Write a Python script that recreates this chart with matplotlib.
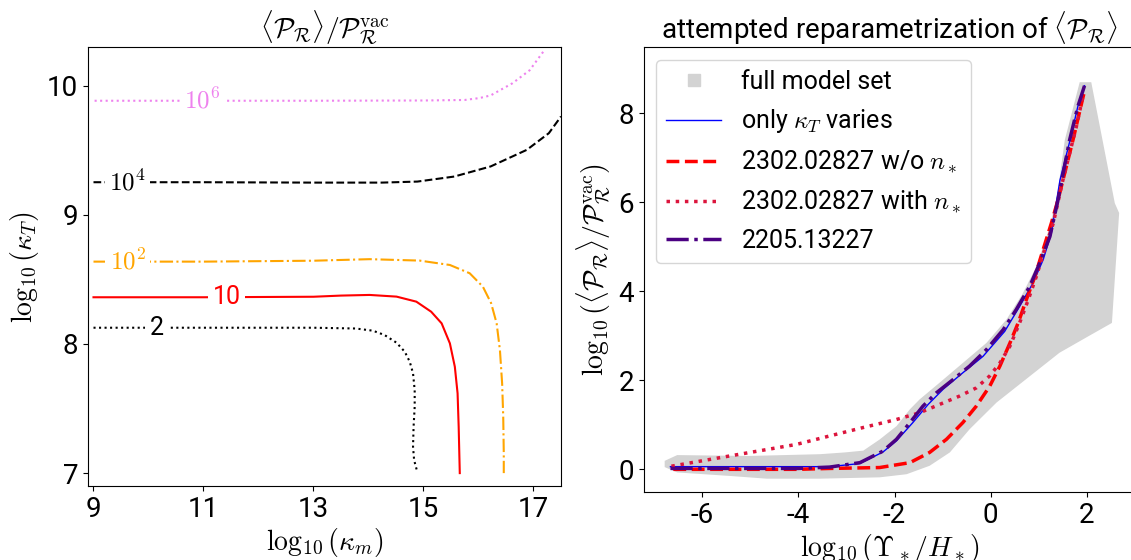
import numpy as np
import matplotlib
matplotlib.use("Agg")
from matplotlib import pyplot as plt
from matplotlib.lines import Line2D

plt.rcParams["font.family"] = ["Roboto", "DejaVu Sans"]
plt.rcParams["mathtext.fontset"] = "cm"
plt.rcParams["axes.unicode_minus"] = False

# ---- left panel: contour levels of <P_R>/P_R^vac in (log10 kappa_m, log10 kappa_T)
lvl2_x = [9.0, 11.0, 13.0, 13.77, 14.08, 14.29, 14.51, 14.66, 14.75, 14.81, 14.84, 14.84, 14.82, 14.81, 14.83, 14.89]
lvl2_y = [8.126, 8.126, 8.126, 8.12, 8.103, 8.07, 8.01, 7.94, 7.863, 7.773, 7.643, 7.514, 7.359, 7.204, 7.1, 7.005]

lvl10_x = [9.0, 11.0, 13.0, 13.5, 14.02, 14.51, 14.87, 15.14, 15.33, 15.48, 15.57, 15.62, 15.64, 15.66]
lvl10_y = [8.362, 8.362, 8.366, 8.375, 8.38, 8.367, 8.328, 8.25, 8.16, 8.005, 7.824, 7.618, 7.359, 7.0]

lvl1e2_x = [9.0, 11.0, 13.0, 14.02, 14.93, 15.48, 15.84, 16.08, 16.23, 16.33, 16.39, 16.43, 16.45, 16.46, 16.46]
lvl1e2_y = [8.638, 8.638, 8.645, 8.657, 8.646, 8.612, 8.548, 8.444, 8.316, 8.16, 7.953, 7.695, 7.437, 7.153, 7.0]

lvl1e4_x = [9.0, 11.0, 13.0, 14.24, 14.89, 15.56, 16.22, 16.88, 17.28, 17.5]
lvl1e4_y = [9.253, 9.253, 9.25, 9.25, 9.258, 9.297, 9.375, 9.504, 9.633, 9.762]

lvl1e6_x = [9.02, 11.0, 13.0, 15.0, 15.75, 16.02, 16.22, 16.62, 16.93, 17.18]
lvl1e6_y = [9.884, 9.884, 9.884, 9.886, 9.89, 9.905, 9.925, 10.02, 10.12, 10.265]

lvl_labels = ["2", "10", r"$10^2$", r"$10^4$", r"$10^6$"]
lvl_label_x = [10.15, 11.42, 9.62, 9.62, 10.97]

# ---- right panel
# only kappa_T varies
kT_x = [-6.66, -5.0, -4.0, -3.35, -2.72, -2.24, -1.96, -1.62, -1.30, -0.99, -0.58, -0.16, 0.29, 0.60, 0.88, 1.09, 1.26, 1.44, 1.65, 1.81, 1.95]
kT_y = [0.06, 0.06, 0.06, 0.06, 0.13, 0.39, 0.64, 1.05, 1.46, 1.80, 2.17, 2.54, 3.10, 3.66, 4.19, 4.71, 5.31, 6.50, 7.40, 8.15, 8.62]
# 2302.02827 w/o n_*
wo_x = [-6.6, -5.0, -4.0, -3.35, -2.31, -1.68, -1.27, -0.92, -0.58, -0.30, -0.02, 0.19, 0.40, 0.57, 0.74, 0.92, 1.09, 1.26, 1.40, 1.71, 1.92, 1.95]
wo_y = [0.0, 0.0, 0.0, 0.02, 0.04, 0.15, 0.38, 0.675, 1.05, 1.42, 1.87, 2.32, 2.84, 3.29, 3.81, 4.34, 4.94, 5.53, 6.06, 7.40, 8.37, 8.5]
# 2302.02827 with n_*
wn_x = [-6.64, -5.43, -4.04, -3.35, -2.65, -1.96, -1.48, -1.06, -0.64, -0.30, -0.02, 0.19, 0.40, 0.60, 0.78, 0.95, 1.12, 1.30, 1.50, 1.78, 1.92]
wn_y = [0.07, 0.30, 0.56, 0.75, 0.94, 1.12, 1.27, 1.46, 1.65, 1.83, 2.10, 2.39, 2.77, 3.29, 3.81, 4.34, 4.94, 5.53, 6.50, 7.70, 8.40]
# 2205.13227
ref_x = [-6.66, -5.0, -4.0, -3.35, -2.72, -2.24, -1.96, -1.68, -1.41, -1.13, -0.78, -0.44, -0.09, 0.26, 0.53, 0.81, 1.02, 1.23, 1.40, 1.64, 1.81, 1.95]
ref_y = [0.02, 0.02, 0.02, 0.05, 0.15, 0.41, 0.675, 1.05, 1.42, 1.72, 2.02, 2.32, 2.69, 3.14, 3.59, 4.11, 4.64, 5.23, 6.06, 7.40, 8.15, 8.62]

# outline of the full model set (clockwise from left end)
full_x = [-6.78, -6.52, -5.03, -3.55, -3.03, -2.65, -2.31, -1.96, -1.68, -1.48, -1.06, -0.58, -0.09, 0.33, 0.67,
          0.95, 1.23, 1.39, 1.54, 1.85, 2.09, 2.58, 2.67, 2.52, 2.03, 1.43, 0.81, 0.12, -0.44, -0.85, -1.27,
          -1.75, -2.31, -3.55, -4.66, -5.41, -6.52, -6.78]
full_y = [0.19, 0.32, 0.30, 0.34, 0.38, 0.42, 0.67, 0.97, 1.35, 1.57, 1.95, 2.39, 2.84, 3.37, 3.96,
          4.56, 5.46, 6.21, 7.40, 8.70, 8.70, 5.98, 5.76, 3.29, 2.99, 2.62, 2.09, 1.50, 0.90, 0.38, 0.08,
          -0.11, -0.18, -0.21, -0.21, -0.15, -0.07, 0.05]

fig = plt.figure(figsize=(11.31, 5.6), dpi=100)
ax1 = fig.add_axes([0.0778, 0.1321, 0.4182, 0.7839])
ax2 = fig.add_axes([0.5694, 0.1214, 0.435, 0.7946])

styles = [("black", ":"), ("red", "-"), ("orange", "-."), ("black", "--"), ("violet", ":")]
curves = [(lvl2_x, lvl2_y), (lvl10_x, lvl10_y), (lvl1e2_x, lvl1e2_y), (lvl1e4_x, lvl1e4_y), (lvl1e6_x, lvl1e6_y)]
for (cx, cy), (col, ls), lab, lx in zip(curves, styles, lvl_labels, lvl_label_x):
    ax1.plot(cx, cy, color=col, ls=ls, lw=1.5)
    ly = np.interp(lx, cx, cy)
    ax1.text(lx, ly, lab, color=col, fontsize=18, ha="center", va="center",
             bbox=dict(facecolor="white", edgecolor="none", pad=3))

ax1.set_xlim(8.9, 17.5)
ax1.set_ylim(6.9, 10.3)
ax1.set_xticks([9, 11, 13, 15, 17])
ax1.set_yticks([7, 8, 9, 10])
ax1.tick_params(labelsize=20)
ax1.set_xlabel(r"$\log_{10}(\kappa_m)$", fontsize=20, labelpad=2)
ax1.set_ylabel(r"$\log_{10}(\kappa_T)$", fontsize=20)
ax1.set_title(r"$\langle\mathcal{P}_\mathcal{R}\rangle/\mathcal{P}_\mathcal{R}^{\rm vac}$", fontsize=20)

ax2.fill(full_x, full_y, color="lightgrey", lw=0)
ax2.plot(kT_x, kT_y, color="blue", lw=1)
ax2.plot(wo_x, wo_y, color="red", ls="--", lw=2.5)
ax2.plot(wn_x, wn_y, color="crimson", ls=":", lw=2.5)
ax2.plot(ref_x, ref_y, color="indigo", ls="-.", lw=2.5)

handles = [
    Line2D([], [], ls="none", marker="s", color="lightgrey", markersize=8),
    Line2D([], [], color="blue", lw=1),
    Line2D([], [], color="red", ls="--", lw=2.5),
    Line2D([], [], color="crimson", ls=":", lw=2.5),
    Line2D([], [], color="indigo", ls="-.", lw=2.5),
]
names = ["full model set", r"only $\kappa_T$ varies", r"2302.02827 w/o $n_*$",
         r"2302.02827 with $n_*$", "2205.13227"]
ax2.legend(handles, names, loc="upper left", fontsize=18, handlelength=2.2, labelspacing=0.55)

ax2.set_xlim(-7.21, 3.02)
ax2.set_ylim(-0.51, 9.49)
ax2.set_xticks([-6, -4, -2, 0, 2])
ax2.set_yticks([0, 2, 4, 6, 8])
ax2.tick_params(labelsize=20)
ax2.set_xlabel(r"$\log_{10}(\Upsilon_*/H_*)$", fontsize=20, labelpad=2)
ax2.set_ylabel(r"$\log_{10}(\langle\mathcal{P}_\mathcal{R}\rangle/\mathcal{P}_\mathcal{R}^{\rm vac})$", fontsize=20)
ax2.set_title(r"attempted reparametrization of $\langle\mathcal{P}_\mathcal{R}\rangle$", fontsize=20)

fig.savefig("out.png", dpi=100)
